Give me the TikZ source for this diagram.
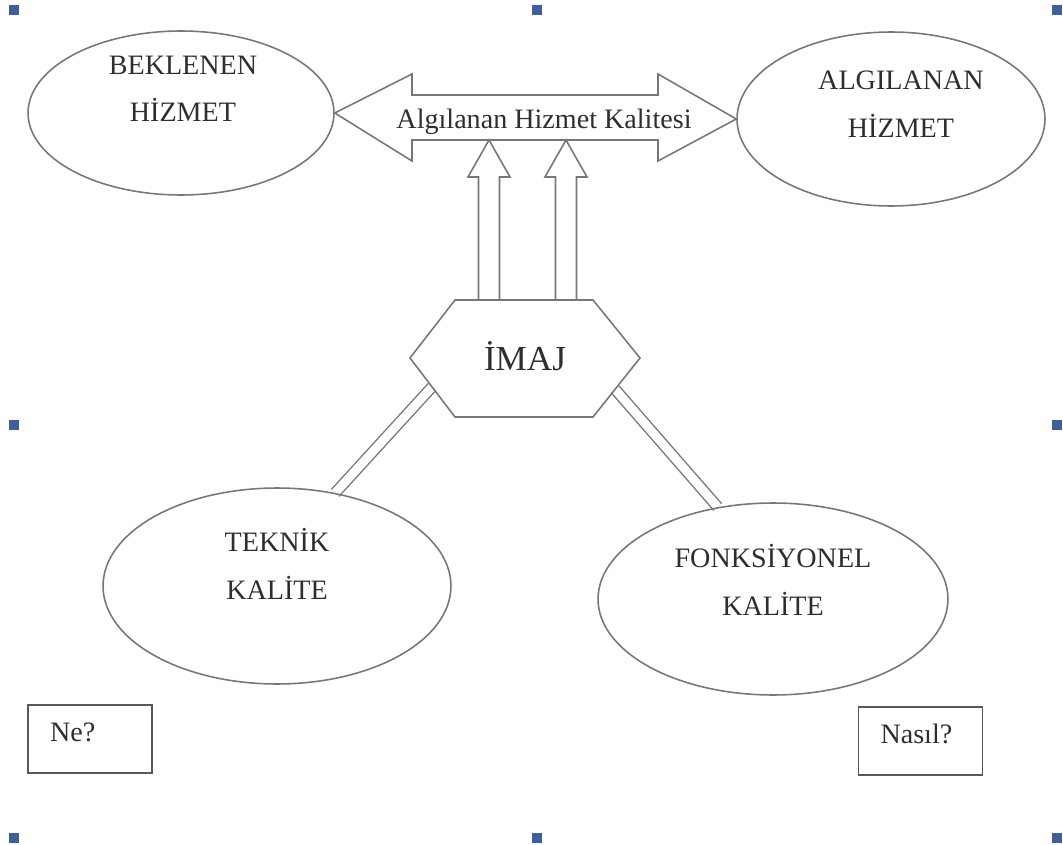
\documentclass[tikz,border=0pt]{standalone}
\usepackage{fontspec}
\setmainfont{Liberation Serif}
\usetikzlibrary{shapes.geometric,calc}
\pgfdeclarelayer{back}
\pgfsetlayers{back,main}
\definecolor{edge}{HTML}{777777}
\definecolor{ink}{HTML}{2E2E2E}
\definecolor{handle}{HTML}{3F5E9C}

\tikzset{
  oval/.style={ellipse, draw=edge, line width=0.9pt, inner sep=0pt},
  txt/.style={text=ink, font=\fontsize{16}{27}\selectfont, align=center, inner sep=0pt},
  blk/.style={draw=edge, line width=0.9pt, line join=miter},
  dbl/.style={draw=edge, double=white, line width=0.8pt, double distance=5pt},
  qbox/.style={draw=black!65, line width=1.1pt, minimum width=2.48cm, minimum height=1.36cm,
    text width=1.6cm, align=left, text height=11pt, text depth=8pt, text=ink,
    font=\fontsize{16}{19}\selectfont, inner sep=0pt},
}

\begin{document}
\begin{tikzpicture}[x=0.02cm, y=-0.02cm]
    \useasboundingbox (0,0) rectangle (1063,845);

    % selection handles
    \foreach \hx/\hy in {14/10, 537/10, 1057/10, 14/425, 1057/425, 14/838, 537/838, 1057/838}
        \fill[handle] (\hx-5,\hy-5) rectangle ++(10,10);

    % ellipses
    \node[oval, minimum width=6.12cm, minimum height=3.28cm] (bekl) at (181,113) {};
    \node[txt] (beklT) at (183,89) {BEKLENEN\\HİZMET};
    \node[oval, minimum width=6.16cm, minimum height=3.48cm] (alg) at (891,119) {};
    \node[txt] (algT) at (901,104) {ALGILANAN\\HİZMET};
    \node[oval, minimum width=6.96cm, minimum height=3.92cm] (tekn) at (277,586) {};
    \node[txt] (teknT) at (277,564) {TEKNİK\\KALİTE};
    \node[oval, minimum width=7.0cm, minimum height=3.84cm] (fonk) at (773,599) {};
    \node[txt] (fonkT) at (773,580) {FONKSİYONEL\\KALİTE};

    % imaj hexagon
    \coordinate (hW) at (410,358);
    \coordinate (hNW) at (455,300);
    \coordinate (hNE) at (593,300);
    \coordinate (hE) at (640,358);
    \coordinate (hSE) at (593,417);
    \coordinate (hSW) at (455,417);
    \draw[blk] (hW) -- (hNW) -- (hNE) -- (hE) -- (hSE) -- (hSW) -- cycle;
    \node[txt, font=\fontsize{20}{24}\selectfont, anchor=base] (imaj) at (525,370) {İMAJ};

    % double arrow
    \draw[blk] (bekl.east) -- (412,74) -- (412,95) -- (658,95) -- (658,74) -- (alg.west)
        -- (658,161) -- (658,140) -- (412,140) -- (412,161) -- cycle;
    \node[txt, anchor=base] (akal) at (544,128) {Algılanan Hizmet Kalitesi};

    % up arrows
    \draw[blk] (478.5,300) -- (478.5,177) -- (468,177) -- (489,140) -- (510,177) -- (499.5,177) -- (499.5,300);
    \draw[blk] (555.5,300) -- (555.5,177) -- (545,177) -- (566,140) -- (587,177) -- (576.5,177) -- (576.5,300);

    % links
    \coordinate (hl) at ($(hW)!0.49!(hSW)$);
    \coordinate (hr) at ($(hE)!0.53!(hSE)$);
    \begin{pgfonlayer}{back}
        \draw[dbl] (hl) -- (tekn.58);
        \draw[dbl] (hr) -- (fonk.121);
    \end{pgfonlayer}

    % boxes
    \node[qbox] (ne) at (90,739) {Ne?};
    \node[qbox] (nasil) at (920.5,741) {Nasıl?};
\end{tikzpicture}
\end{document}
